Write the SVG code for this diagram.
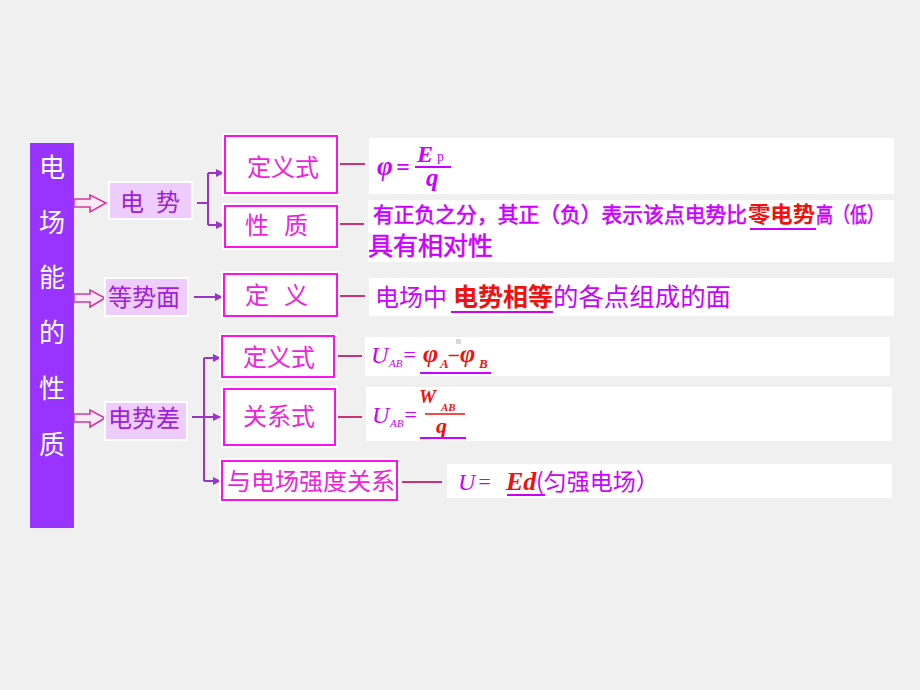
<svg xmlns="http://www.w3.org/2000/svg" width="920" height="690" viewBox="0 0 920 690">
<defs>
<marker id="ah" viewBox="0 0 8 8" refX="7" refY="4" markerWidth="8" markerHeight="8" markerUnits="userSpaceOnUse" orient="auto">
<path d="M0,0 L8,4 L0,8 z" fill="#9933cc"/>
</marker>
<style>
.cjk{font-family:"Noto Sans CJK SC","Noto Sans",sans-serif}
.math{font-family:"Liberation Serif","Times New Roman",serif;font-style:italic}
.bar{fill:#9933ff}
.bartxt{fill:#ffffff;font-size:26px;text-anchor:middle}
.cat{fill:#eeccfb;stroke:#ffffff;stroke-width:2}
.cattxt{fill:#a020d8;font-size:24px}
.halo{fill:#ffffff}
.box{fill:#ffffff;stroke:#ff11ee;stroke-width:2}
.boxtxt{fill:#ee22dd;font-size:24px}
.content{fill:#ffffff}
.ptxt{fill:#cc00ff}
.heavy{stroke:#cc00ff;stroke-width:0.6}
.rtxt{fill:#ee1111;font-weight:bold}
.ul{stroke:#cc00ff;stroke-width:2}
.hollow{fill:#fbeaf6;stroke:#d03aa0;stroke-width:1.6}
.br{stroke:#9933cc;stroke-width:2;fill:none}
.cn{stroke:#cc3377;stroke-width:2}
</style>
</defs>
<rect x="0" y="0" width="920" height="690" fill="#f0f0f0"/>

<g id="title">
<rect class="bar" x="30" y="143" width="44" height="385"/>
<text class="cjk bartxt" x="52" y="177">电</text>
<text class="cjk bartxt" x="52" y="232">场</text>
<text class="cjk bartxt" x="52" y="287">能</text>
<text class="cjk bartxt" x="52" y="342">的</text>
<text class="cjk bartxt" x="52" y="398">性</text>
<text class="cjk bartxt" x="52" y="454">质</text>
</g>

<g id="connectors">
<polygon class="hollow" points="74,199 90,199 90,195 106,203 90,212 90,207 74,207"/>
<polygon class="hollow" points="74,294 90,294 90,290 105,298 90,307 90,302 74,302"/>
<polygon class="hollow" points="74,414 90,414 90,410 105,418 90,427 90,422 74,422"/>
<path class="br" d="M197,203 H208 M208,173 V225"/>
<line class="br" x1="208" y1="173" x2="223" y2="173" marker-end="url(#ah)"/>
<line class="br" x1="208" y1="225" x2="223" y2="225" marker-end="url(#ah)"/>
<line class="br" x1="194" y1="297" x2="222" y2="297" marker-end="url(#ah)"/>
<path class="br" d="M204,358 V481"/>
<line class="br" x1="192" y1="417" x2="220" y2="417" marker-end="url(#ah)"/>
<line class="br" x1="204" y1="358" x2="220" y2="358" marker-end="url(#ah)"/>
<line class="br" x1="204" y1="481" x2="220" y2="481" marker-end="url(#ah)"/>
<line class="cn" x1="340" y1="164" x2="365" y2="164"/>
<line class="cn" x1="340" y1="224" x2="364" y2="224"/>
<line class="cn" x1="340" y1="296" x2="365" y2="296"/>
<line class="cn" x1="338" y1="356" x2="362" y2="356"/>
<line class="cn" x1="338" y1="417" x2="362" y2="417"/>
<line class="cn" x1="402" y1="482" x2="442" y2="482"/>
</g>

<g id="dianshi">
<rect class="cat" x="109" y="182" width="83" height="37"/>
<text class="cjk cattxt" y="211"><tspan x="120">电</tspan><tspan x="156">势</tspan></text>
</g>
<g id="dengshimian">
<rect class="cat" x="105" y="278" width="83" height="38"/>
<text class="cjk cattxt" x="108" y="306" font-size="25">等势面</text>
</g>
<g id="dianshicha">
<rect class="cat" x="105" y="402" width="82" height="38"/>
<text class="cjk cattxt" x="108" y="427" font-size="25">电势差</text>
</g>

<g id="dingyishi1">
<rect class="halo" x="222" y="133" width="118" height="63"/>
<rect class="box" x="225" y="136" width="112" height="57"/>
<text class="cjk boxtxt" x="247" y="176">定义式</text>
</g>
<g id="xingzhi">
<rect class="halo" x="222" y="203" width="118" height="47"/>
<rect class="box" x="225" y="206" width="112" height="41"/>
<text class="cjk boxtxt" y="234"><tspan x="245">性</tspan><tspan x="284">质</tspan></text>
</g>
<g id="dingyi">
<rect class="halo" x="221" y="271" width="119" height="48"/>
<rect class="box" x="224" y="274" width="113" height="42"/>
<text class="cjk boxtxt" y="304"><tspan x="245">定</tspan><tspan x="284">义</tspan></text>
</g>
<g id="dingyishi2">
<rect class="halo" x="219" y="333" width="118" height="47"/>
<rect class="box" x="222" y="336" width="112" height="41"/>
<text class="cjk boxtxt" x="243" y="366">定义式</text>
</g>
<g id="guanxishi">
<rect class="halo" x="221" y="386" width="117" height="62"/>
<rect class="box" x="224" y="389" width="111" height="56"/>
<text class="cjk boxtxt" x="243" y="425">关系式</text>
</g>
<g id="yuchang">
<rect class="halo" x="219" y="458" width="181" height="45"/>
<rect class="box" x="222" y="461" width="175" height="39"/>
<text class="cjk boxtxt" x="227" y="490">与电场强度关系</text>
</g>

<g id="c-phi">
<rect class="content" x="369" y="138" width="525" height="56"/>
<text class="math ptxt" x="377" y="175" font-size="27" font-weight="bold">φ</text>
<text class="math ptxt" x="396" y="175" font-size="24" font-weight="bold" font-style="normal">=</text>
<text class="math ptxt" x="417" y="162" font-size="24" font-weight="bold">E</text>
<text class="ptxt" x="437" y="161" font-size="14" font-family="Liberation Serif, serif">p</text>
<line x1="415" y1="167" x2="451" y2="167" stroke="#cc00ff" stroke-width="2"/>
<text class="math ptxt" x="426" y="186" font-size="25" font-weight="bold">q</text>
</g>

<g id="c-xingzhi">
<rect class="content" x="368" y="200" width="526" height="62"/>
<text class="cjk ptxt heavy" x="373" y="222" font-size="21" textLength="374" lengthAdjust="spacingAndGlyphs">有正负之分，其正（负）表示该点电势比</text>
<text class="cjk rtxt" x="748" y="222" font-size="22" textLength="67" lengthAdjust="spacingAndGlyphs">零电势</text>
<text class="cjk ptxt heavy" x="816" y="222" font-size="21" textLength="68" lengthAdjust="spacingAndGlyphs">高（低）</text>
<line class="ul" x1="750" y1="229" x2="816" y2="229"/>
<text class="cjk ptxt heavy" x="368" y="255" font-size="25">具有相对性</text>
</g>

<g id="c-dingyi">
<rect class="content" x="369" y="278" width="525" height="38"/>
<text class="cjk ptxt" x="375" y="306" font-size="24">电场中</text>
<text class="cjk rtxt" x="453" y="306" font-size="25" textLength="100" lengthAdjust="spacingAndGlyphs">电势相等</text>
<text class="cjk ptxt" x="553" y="306" font-size="25" textLength="178" lengthAdjust="spacingAndGlyphs">的各点组成的面</text>
<line class="ul" x1="451" y1="312" x2="553" y2="312"/>
</g>

<g id="c-uab1">
<rect class="content" x="365" y="337" width="525" height="39"/>
<text class="math ptxt" x="371" y="363" font-size="24">U</text>
<text class="math ptxt" x="389" y="367" font-size="11">AB</text>
<text class="math ptxt" x="402" y="362" font-size="22" font-style="normal">=</text>
<text class="math" x="423" y="362" font-size="26" font-weight="bold" fill="#ee1111">φ</text>
<text class="math" x="440" y="368" font-size="13" font-weight="bold" fill="#ee1111">A</text>
<text class="math" x="449" y="361" font-size="20" font-weight="bold" font-style="normal" fill="#ee1111">–</text>
<text class="math" x="460" y="362" font-size="26" font-weight="bold" fill="#ee1111">φ</text>
<text class="math" x="479" y="368" font-size="13" font-weight="bold" fill="#ee1111">B</text>
<line class="ul" x1="420" y1="373" x2="491" y2="373"/>
<rect x="456" y="339" width="5" height="5" fill="#d8d8d8"/>
</g>

<g id="c-uab2">
<rect class="content" x="366" y="387" width="526" height="54"/>
<text class="math ptxt" x="372" y="423" font-size="24">U</text>
<text class="math ptxt" x="390" y="427" font-size="11">AB</text>
<text class="math ptxt" x="403" y="422" font-size="22" font-style="normal">=</text>
<text class="math" x="419" y="403" font-size="19" font-weight="bold" fill="#ee1111">W</text>
<text class="math" x="441" y="411" font-size="11" font-weight="bold" fill="#ee1111">AB</text>
<line x1="425" y1="414" x2="465" y2="414" stroke="#ee1111" stroke-width="1.6"/>
<text class="math" x="436" y="433" font-size="22" font-weight="bold" fill="#ee1111">q</text>
<line class="ul" x1="420" y1="438" x2="466" y2="438"/>
</g>

<g id="c-ued">
<rect class="content" x="447" y="464" width="445" height="34"/>
<text class="math ptxt" x="458" y="490" font-size="24">U</text>
<text class="math ptxt" x="477" y="489" font-size="22" font-style="normal">=</text>
<text class="math" x="506" y="490" font-size="26" font-weight="bold" fill="#ee1111">Ed</text>
<text class="cjk ptxt" x="536" y="490" font-size="23">(匀强电场）</text>
<line class="ul" x1="507" y1="495" x2="545" y2="495"/>
</g>
</svg>
